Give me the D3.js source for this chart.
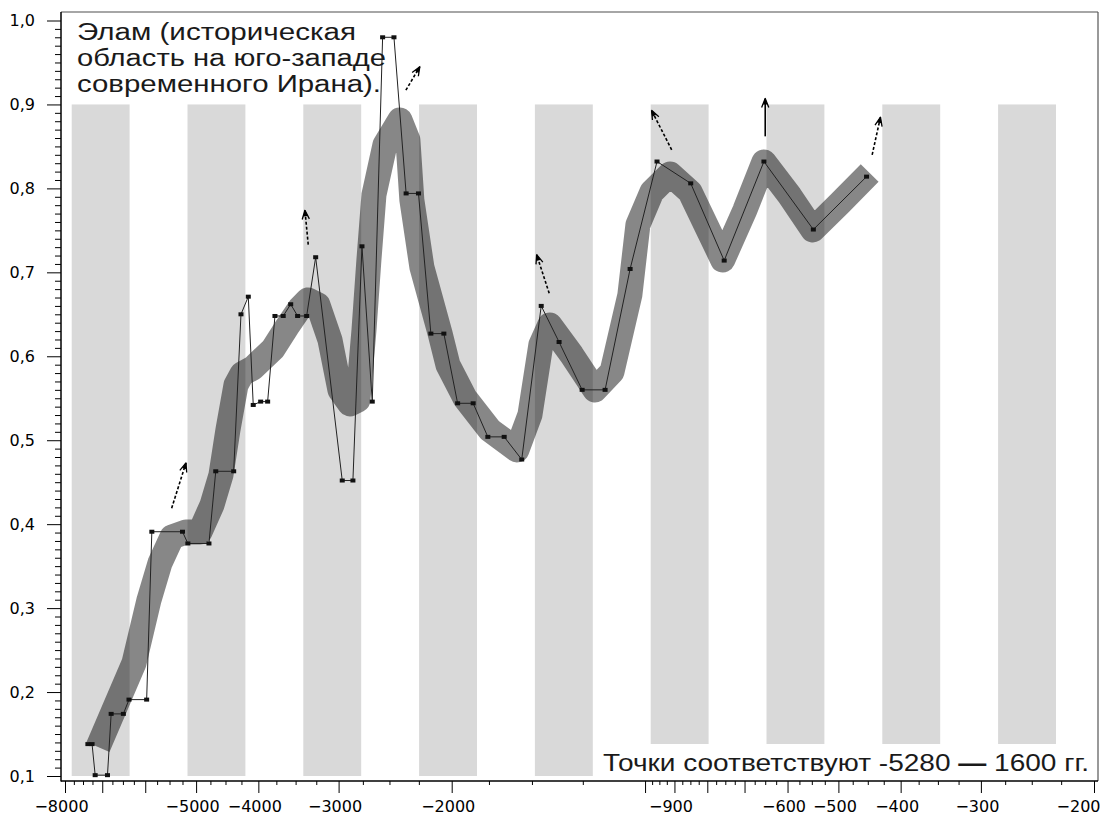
<!DOCTYPE html>
<html>
<head>
<meta charset="utf-8">
<script src="https://cdn.jsdelivr.net/npm/d3@7"></script>
<style>
  body { margin: 0; background: #fff; }
  svg { display: block; }
</style>
</head>
<body>
<svg id="chart" width="1104" height="818"></svg>
<script>
// ---- data -------------------------------------------------------------
// Observations (year, index value)
const years = [-7370, -7260, -7180, -6870, -6780, -6490, -6360, -5970, -5860, -5250,
  -5150, -4775, -4660, -4370, -4257, -4147, -4074, -3967, -3869, -3769,
  -3659, -3562, -3475, -3364, -3257, -2961, -2850, -2759, -2659, -2562,
  -2460, -2355, -2253, -2155, -2057, -1958, -1852, -1757, -1657, -1556,
  -1451, -1361, -1253, -1154, -1055, -958, -849, -753, -653, -547, -452];
const values = [0.138, 0.138, 0.101, 0.101, 0.174, 0.174, 0.191, 0.191, 0.391, 0.391,
  0.377, 0.377, 0.463, 0.463, 0.650, 0.671, 0.542, 0.546, 0.546, 0.648,
  0.648, 0.662, 0.648, 0.648, 0.718, 0.452, 0.452, 0.731, 0.546, 0.980,
  0.980, 0.794, 0.794, 0.627, 0.627, 0.544, 0.544, 0.504, 0.504, 0.477,
  0.660, 0.617, 0.560, 0.560, 0.704, 0.832, 0.806, 0.714, 0.832, 0.751, 0.814];

// Smoothed trend drawn as the wide grey band
const trendYears = [-7107, -6247, -5920, -5691, -5452, -5185, -4931, -4723, -4574, -4461,
  -4334, -4242, -4078, -3796, -3610, -3446, -3348, -3230, -3094, -2986,
  -2881, -2799, -2739, -2691, -2643, -2541, -2408, -2340, -2307, -2226,
  -2086, -2027, -1907, -1744, -1583, -1511, -1453, -1407, -1300, -1197,
  -1126, -1056, -1026, -976, -914, -851, -804, -757, -699, -653,
  -595, -548, -497, -447];
const trendValues = [0.1345, 0.2346, 0.3097, 0.3538, 0.3847, 0.3907, 0.3907, 0.4228, 0.4586, 0.5122,
  0.5658, 0.5789, 0.5861, 0.6087, 0.6349, 0.6575, 0.6671, 0.6611, 0.6194, 0.5599,
  0.5432, 0.5479, 0.6313, 0.7147, 0.7922, 0.8517, 0.8815, 0.8577, 0.7862, 0.7064,
  0.6278, 0.5896, 0.5503, 0.5122, 0.4884, 0.5301, 0.6135, 0.6373, 0.6015, 0.5599,
  0.5813, 0.6730, 0.7564, 0.7957, 0.8172, 0.7957, 0.7564, 0.7147, 0.7743, 0.8315,
  0.7910, 0.7505, 0.7826, 0.8184];

// Arrows marking upward turns
const arrowTailYears  = [-5458, -3345, -2357, -1410, -909, -650, -443];
const arrowTailValues = [0.419, 0.733, 0.917, 0.675, 0.846, 0.862, 0.840];
const arrowTipYears   = [-5185, -3385, -2242, -1475, -977, -650, -430];
const arrowTipValues  = [0.473, 0.774, 0.945, 0.721, 0.893, 0.907, 0.885];
const arrowDashed     = [true, true, true, true, true, false, true];

// Axis ticks
const xTickLabels = [-8000, -5000, -4000, -3000, -2000, -900, -600, -500, -400, -300, -200];
const xMajorTicks = [-8000, -7000, -6000, -5000, -4000, -3000, -2000, -1000, -900, -800, -700, -600, -500, -400, -300, -200];
const yTickLabels = [0.1, 0.2, 0.3, 0.4, 0.5, 0.6, 0.7, 0.8, 0.9, 1.0];
const stripeCount = 9;

const titleLines = ["Элам (историческая", "область на юго-западе", "современного Ирана)."];
const notePrefix = "Точки соответствуют -5280 ";
const noteDash = "—";
const noteSuffix = " 1600 гг.";

// ---- layout -----------------------------------------------------------
const frame = { left: 61, right: 1098, top: 12, bottom: 781 };
const svg = d3.select("#chart");

const x = d3.scaleLog().domain([-8000, -200]).range([65, 1094]);
const y = d3.scaleLinear().domain([0.1, 1.0]).range([776, 20.5]);

// background stripes
const stripe = d3.scaleBand().domain(d3.range(stripeCount))
  .range([71.7, 1056]).paddingInner(0.5).paddingOuter(0);
svg.append("g").selectAll("rect").data(d3.range(stripeCount)).join("rect")
  .attr("x", d => stripe(d)).attr("width", stripe.bandwidth())
  .attr("y", y(0.9)).attr("height", y(0.1) - y(0.9))
  .attr("fill", "#d9d9d9");

// trend band
const trend = trendYears.map((t, i) => [x(t), y(trendValues[i])]);
svg.append("path")
  .attr("d", d3.line()(trend))
  .attr("fill", "none")
  .attr("stroke", "#000")
  .attr("stroke-opacity", 0.47)
  .attr("stroke-width", 25)
  .attr("stroke-linejoin", "round")
  .attr("stroke-linecap", "butt");

// observation line and markers
const pts = years.map((t, i) => [x(t), y(values[i])]);
svg.append("path")
  .attr("d", d3.line()(pts))
  .attr("fill", "none")
  .attr("stroke", "#222")
  .attr("stroke-width", 1);
svg.append("g").selectAll("rect").data(pts).join("rect")
  .attr("x", d => d[0] - 2.5).attr("y", d => d[1] - 2)
  .attr("width", 5).attr("height", 4)
  .attr("fill", "#111");

// arrows
const defs = svg.append("defs");
const head = defs.append("marker")
  .attr("id", "head").attr("markerUnits", "userSpaceOnUse")
  .attr("viewBox", "-11 -6 13 12").attr("markerWidth", 13).attr("markerHeight", 12)
  .attr("refX", 0).attr("refY", 0).attr("orient", "auto");
head.append("path").attr("d", "M0,0 L-9,-3.6 M0,0 L-9,3.6")
  .attr("stroke", "#000").attr("stroke-width", 1.3).attr("fill", "none");
head.append("path").attr("d", "M1,0 L-6,-2.2 L-6,2.2 Z").attr("fill", "#000");

svg.append("g").selectAll("line").data(d3.range(arrowTailYears.length)).join("line")
  .attr("x1", i => x(arrowTailYears[i])).attr("y1", i => y(arrowTailValues[i]))
  .attr("x2", i => x(arrowTipYears[i])).attr("y2", i => y(arrowTipValues[i]))
  .attr("stroke", "#000").attr("stroke-width", 1.6)
  .attr("stroke-dasharray", i => arrowDashed[i] ? "3,2" : null)
  .attr("marker-end", "url(#head)");

// axes
const fmtYear = d3.format("d");
const xMinor = d3.range(-8000, -1000, 250).concat(d3.range(-1000, -200, 25))
  .filter(v => !xMajorTicks.includes(v));
const yMinor = d3.range(11, 100).filter(v => v % 10 !== 0).map(v => v / 100);

const gxMinor = svg.append("g").attr("transform", `translate(0,${frame.bottom})`)
  .call(d3.axisBottom(x).tickValues(xMinor).tickSize(4).tickFormat(""));
const gxMajor = svg.append("g").attr("transform", `translate(0,${frame.bottom})`)
  .call(d3.axisBottom(x).tickValues(xMajorTicks).tickSize(12).tickPadding(8)
    .tickFormat(d => xTickLabels.includes(d) ? fmtYear(d) : ""));
gxMajor.selectAll(".tick text").attr("x", -4);
gxMajor.selectAll(".tick text").filter(d => d === -200).attr("text-anchor", "end").attr("x", 6);

const gyMinor = svg.append("g").attr("transform", `translate(${frame.left},0)`)
  .call(d3.axisLeft(y).tickValues(yMinor).tickSize(6).tickFormat(""));
const gyMajor = svg.append("g").attr("transform", `translate(${frame.left},0)`)
  .call(d3.axisLeft(y).tickValues(yTickLabels).tickSize(14).tickPadding(12)
    .tickFormat(d => d3.format(".1f")(d).replace(".", ",")));

[gxMinor, gxMajor, gyMinor, gyMajor].forEach(g => {
  g.select(".domain").remove();
  g.selectAll(".tick line").attr("stroke", "#000");
  g.selectAll(".tick text").attr("fill", "#000");
  g.attr("font-family", "DejaVu Sans, Verdana, sans-serif");
});
gxMajor.attr("font-size", 16);
gyMajor.attr("font-size", 16);

// frame
svg.append("line").attr("x1", frame.left).attr("x2", frame.right)
  .attr("y1", frame.top).attr("y2", frame.top)
  .attr("stroke", "#888").attr("stroke-width", 1.5);
svg.append("line").attr("x1", frame.right).attr("x2", frame.right)
  .attr("y1", frame.top).attr("y2", frame.bottom)
  .attr("stroke", "#555").attr("stroke-width", 1.2);
svg.append("line").attr("x1", frame.left).attr("x2", frame.left)
  .attr("y1", frame.top).attr("y2", frame.bottom + 0.5)
  .attr("stroke", "#000").attr("stroke-width", 1.5);
svg.append("line").attr("x1", frame.left).attr("x2", frame.right)
  .attr("y1", frame.bottom).attr("y2", frame.bottom)
  .attr("stroke", "#000").attr("stroke-width", 1.5);

// title
const titleWidths = [279, 309, 304];
svg.append("g").selectAll("text").data(titleLines).join("text")
  .attr("x", 77).attr("y", (d, i) => 40 + i * 26)
  .attr("font-family", "Liberation Sans, Arial, sans-serif")
  .attr("font-size", 23).attr("fill", "#1a1a1a")
  .attr("textLength", (d, i) => titleWidths[i])
  .attr("lengthAdjust", "spacingAndGlyphs")
  .text(d => d);

// note box
svg.append("rect").attr("x", 597).attr("y", 744)
  .attr("width", frame.right - 597 - 1).attr("height", frame.bottom - 744 - 1)
  .attr("fill", "#fff");
const note = svg.append("text").attr("x", 603).attr("y", 771)
  .attr("font-family", "Liberation Sans, Arial, sans-serif")
  .attr("font-size", 23).attr("fill", "#1a1a1a")
  .attr("textLength", 486).attr("lengthAdjust", "spacingAndGlyphs");
note.append("tspan").text(notePrefix);
note.append("tspan").attr("font-weight", "bold").text(noteDash);
note.append("tspan").text(noteSuffix);
</script>
</body>
</html>
